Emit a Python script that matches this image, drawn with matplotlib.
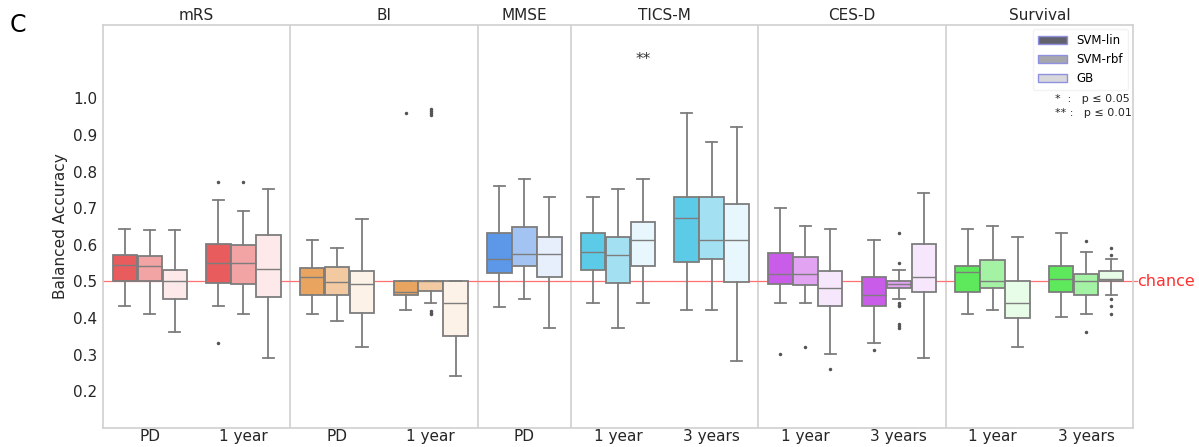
import matplotlib
matplotlib.use('Agg')
import matplotlib.pyplot as plt
from matplotlib.patches import Patch

# group tick labels and the outcome each group belongs to
GROUPS = ['PD', '1 year', 'PD', '1 year', 'PD', '1 year', '3 years',
          '1 year', '3 years', '1 year', '3 years']
OUTCOMES = ['mRS', 'BI', 'MMSE', 'TICS-M', 'CES-D', 'Survival']
OUTCOME_OF_GROUP = [0, 0, 1, 1, 2, 3, 3, 4, 4, 5, 5]
MODELS = ['SVM-lin', 'SVM-rbf', 'GB']

# colours per outcome: SVM-lin, SVM-rbf, GB
COLORS = [
    ['#e85c5e', '#f2a3a4', '#fde9e9'],
    ['#e9a45f', '#f3c9a2', '#fdf2e7'],
    ['#5c97e8', '#a3c4f2', '#e7effd'],
    ['#5ccbe8', '#a3e1f2', '#e7f7fd'],
    ['#c95ce8', '#e1a3f2', '#f6e7fd'],
    ['#5ee85c', '#a4f2a3', '#e7fde7'],
]

# box stats per group, per model: whislo, q1, med, q3, whishi
STATS = [
    [(0.432, 0.50, 0.546, 0.571, 0.642), (0.412, 0.50, 0.542, 0.570, 0.640), (0.361, 0.453, 0.50, 0.531, 0.640)],
    [(0.432, 0.495, 0.551, 0.601, 0.721), (0.412, 0.494, 0.550, 0.600, 0.691), (0.291, 0.457, 0.533, 0.627, 0.751)],
    [(0.412, 0.462, 0.512, 0.537, 0.612), (0.392, 0.464, 0.498, 0.539, 0.591), (0.322, 0.414, 0.492, 0.528, 0.671)],
    [(0.422, 0.462, 0.472, 0.50, 0.50), (0.442, 0.473, 0.50, 0.50, 0.50), (0.241, 0.351, 0.442, 0.50, 0.50)],
    [(0.431, 0.524, 0.562, 0.631, 0.761), (0.452, 0.542, 0.576, 0.649, 0.781), (0.372, 0.512, 0.576, 0.622, 0.731)],
    [(0.442, 0.531, 0.581, 0.631, 0.731), (0.372, 0.495, 0.572, 0.622, 0.751), (0.442, 0.542, 0.612, 0.662, 0.781)],
    [(0.422, 0.554, 0.672, 0.731, 0.961), (0.422, 0.562, 0.612, 0.731, 0.882), (0.282, 0.498, 0.612, 0.711, 0.921)],
    [(0.442, 0.494, 0.521, 0.578, 0.701), (0.442, 0.491, 0.521, 0.566, 0.651), (0.302, 0.434, 0.483, 0.528, 0.642)],
    [(0.332, 0.434, 0.462, 0.511, 0.612), (0.452, 0.483, 0.492, 0.50, 0.531), (0.291, 0.471, 0.512, 0.601, 0.741)],
    [(0.412, 0.472, 0.527, 0.541, 0.642), (0.422, 0.482, 0.502, 0.558, 0.651), (0.322, 0.40, 0.442, 0.502, 0.621)],
    [(0.402, 0.472, 0.507, 0.541, 0.632), (0.412, 0.463, 0.502, 0.521, 0.581), (0.462, 0.502, 0.507, 0.529, 0.562)],
]

FLIERS = [
    [[], [], []],
    [[0.771, 0.332], [0.771], []],
    [[], [], []],
    [[0.961], [0.972, 0.966, 0.960, 0.955, 0.42, 0.415, 0.41], []],
    [[], [], []],
    [[], [], []],
    [[], [], []],
    [[0.302], [0.322], [0.261]],
    [[0.312], [0.631, 0.551, 0.442, 0.437, 0.432, 0.384, 0.378, 0.372], []],
    [[], [], []],
    [[], [0.611, 0.361], [0.592, 0.572, 0.452, 0.432, 0.412]],
]

EDGE = '#7d7d7d'

fig = plt.figure(figsize=(11.99, 4.47), dpi=100)
ax = fig.add_axes([103 / 1199, 1 - 428 / 447, 1030 / 1199, 403 / 447])

width = 0.8 / 3
for g in range(len(GROUPS)):
    o = OUTCOME_OF_GROUP[g]
    for m in range(3):
        lo, q1, med, q3, hi = STATS[g][m]
        st = [dict(whislo=lo, q1=q1, med=med, q3=q3, whishi=hi, fliers=FLIERS[g][m])]
        pos = g + (m - 1) * width
        ax.bxp(st, positions=[pos], widths=width * 0.98, patch_artist=True,
               boxprops=dict(facecolor=COLORS[o][m], edgecolor=EDGE, linewidth=1.3),
               medianprops=dict(color=EDGE, linewidth=1.0),
               whiskerprops=dict(color=EDGE, linewidth=1.3),
               capprops=dict(color=EDGE, linewidth=1.3),
               capwidths=width * 0.45,
               flierprops=dict(marker='o', markersize=1.5, markerfacecolor='#555555',
                               markeredgecolor='#555555'),
               manage_ticks=False)

# separators between outcomes
bounds = [1.5, 3.5, 4.5, 6.5, 8.5]
for b in bounds:
    ax.axvline(b, color='#d0d0d0', linewidth=1.2, zorder=0)

# chance level
ax.axhline(0.5, color='#ff7070', linewidth=0.9, zorder=1, clip_on=False, xmax=1.004)
ax.text(10.54, 0.5, 'chance', color='#ff3030', fontsize=11.5, va='center', ha='left')

ax.set_xlim(-0.5, 10.5)
ax.set_ylim(0.1, 1.2)
ax.set_xticks(range(len(GROUPS)))
ax.set_xticklabels(GROUPS)
ax.set_yticks([0.2, 0.3, 0.4, 0.5, 0.6, 0.7, 0.8, 0.9, 1.0])
ax.set_yticklabels(['0.2', '0.3', '0.4', '0.5', '0.6', '0.7', '0.8', '0.9', '1.0'])
ax.tick_params(axis='y', length=0, labelsize=11, colors='#262626', pad=4)
ax.tick_params(axis='x', length=0, labelsize=11, colors='#262626', pad=1)
ax.set_ylabel('Balanced Accuracy', fontsize=11, color='#262626', labelpad=4)
for s in ax.spines.values():
    s.set_color('#d0d0d0')
    s.set_linewidth(1.2)

# outcome titles above the panels
centers = [0.5, 2.5, 4, 5.5, 7.5, 9.5]
for c, name in zip(centers, OUTCOMES):
    ax.text(c, 1.205, name, ha='center', va='bottom', fontsize=11, color='#262626')

# significance mark
ax.text(5 + width, 1.107, '**', ha='center', va='center', fontsize=11, color='#333333')

# legend
handles = [Patch(facecolor=c, edgecolor='#9090e0', linewidth=1.0, label=l)
           for c, l in zip(['#62626e', '#a6a6ad', '#d8d8dc'], MODELS)]
leg = ax.legend(handles=handles, loc='upper right', fontsize=8.5, frameon=True,
                handlelength=2.4, handleheight=0.7, borderpad=0.45, labelspacing=0.5,
                handletextpad=0.8, borderaxespad=0, bbox_to_anchor=(0.995, 0.99))
leg.get_frame().set_edgecolor('#f0f0f0')
fig.text(1055 / 1199, 1 - 102 / 447, '*  :   p ≤ 0.05', fontsize=8, color='#262626')
fig.text(1055 / 1199, 1 - 116 / 447, '** :   p ≤ 0.01', fontsize=8, color='#262626')

fig.text(10 / 1199, 1 - 32 / 447, 'C', fontsize=17, color='black')

fig.savefig('out.png', dpi=100)
